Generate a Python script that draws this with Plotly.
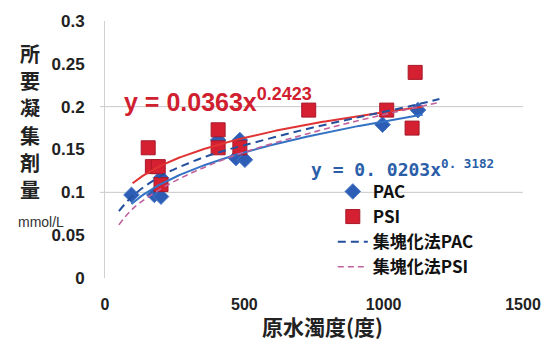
import numpy as np
import plotly.graph_objects as go

# Raw water turbidity (degrees) vs. required coagulant dose (mmol/L)
pac_x = [95, 177, 201, 201, 406, 470, 484, 502, 996, 1123]
pac_y = [0.097, 0.097, 0.095, 0.117, 0.161, 0.140, 0.161, 0.138, 0.179, 0.196]

psi_x = [155, 170, 191, 201, 406, 406, 484, 731, 1011, 1102, 1113]
psi_y = [0.152, 0.130, 0.130, 0.109, 0.173, 0.152, 0.152, 0.196, 0.196, 0.175, 0.240]

# Power-law fits y = a * x^b, as printed on the chart
pac_fit = [0.0203, 0.3182]
psi_fit = [0.0363, 0.2423]
pac_fit_range = [95, 1140]
psi_fit_range = [99, 1140]

# Floc-method (集塊化法) estimates
floc_x = [50, 100, 200, 300, 400, 500, 700, 900, 1100, 1200]
floc_pac_y = [0.078, 0.096, 0.119, 0.134, 0.146, 0.155, 0.172, 0.187, 0.201, 0.209]
floc_psi_y = [0.062, 0.081, 0.104, 0.121, 0.135, 0.147, 0.166, 0.183, 0.198, 0.205]

x_ticks = [0, 500, 1000, 1500]
y_ticks = [0, 0.05, 0.1, 0.15, 0.2, 0.25, 0.3]
y_title_chars = ["所", "要", "凝", "集", "剤", "量"]

BLUE = "#2d5db4"
RED = "#d42030"
BLUE_LINE = "#3473c4"
RED_LINE = "#e03434"
BLUE_DASH = "#24509e"
PINK_DASH = "#c0609c"
JP = "Noto Sans CJK JP"
LAT = "Liberation Sans"


def fit_curve(coef, rng):
    xs = np.linspace(rng[0], rng[1], 120)
    return xs, coef[0] * xs ** coef[1]


def fit_label(coef, sep=""):
    a = f"{coef[0]:.4f}".replace(".", "." + sep)
    b = f"{coef[1]:.4f}".replace(".", "." + sep)
    return a, b


fig = go.Figure()

fig.add_trace(go.Scatter(
    x=pac_x, y=pac_y, mode="markers", name="PAC",
    marker=dict(symbol="diamond", size=12, color=BLUE,
                line=dict(color="#4a78c8", width=1)),
))
fig.add_trace(go.Scatter(
    x=psi_x, y=psi_y, mode="markers", name="PSI",
    marker=dict(symbol="square", size=14, color=RED,
                line=dict(color="#a8182a", width=1)),
))

fx, fy = fit_curve(pac_fit, pac_fit_range)
fig.add_trace(go.Scatter(x=fx, y=fy, mode="lines", showlegend=False,
                         line=dict(color=BLUE_LINE, width=2)))
fx, fy = fit_curve(psi_fit, psi_fit_range)
fig.add_trace(go.Scatter(x=fx, y=fy, mode="lines", showlegend=False,
                         line=dict(color=RED_LINE, width=2)))

fig.add_trace(go.Scatter(
    x=floc_x, y=floc_pac_y, mode="lines", name="集塊化法PAC",
    line=dict(color=BLUE_DASH, width=2, dash="8px,5px", shape="spline"),
))
fig.add_trace(go.Scatter(
    x=floc_x, y=floc_psi_y, mode="lines", name="集塊化法PSI",
    line=dict(color=PINK_DASH, width=1.6, dash="6px,4px", shape="spline"),
))

# horizontal guide lines at 0.1 and 0.2
for gy in (0.1, 0.2):
    fig.add_shape(type="line", xref="paper", yref="y", x0=-0.012, x1=1,
                  y0=gy, y1=gy, line=dict(color="#c8c8c8", width=1), layer="below")

# fitted equations
a, b = fit_label(psi_fit)
fig.add_annotation(
    x=0.04, y=0.208, xref="paper", yref="y", xanchor="left", yanchor="middle",
    text=f"y = {a}x<sup><span style='font-size:18px'>{b}</span></sup>",
    showarrow=False,
    font=dict(family=LAT, size=25, color="#d02030", weight="bold"),
)
a, b = fit_label(pac_fit, sep=" ")
fig.add_annotation(
    x=0.487, y=0.128, xref="paper", yref="y", xanchor="left", yanchor="middle",
    text=f"y = {a}x<sup>{b}</sup>", showarrow=False,
    font=dict(family="DejaVu Sans Mono", size=18, color="#2a5ea8", weight="bold"),
)

# vertical y-axis title, one character per row
for i, ch in enumerate(y_title_chars):
    fig.add_annotation(
        x=-0.179, y=0.876 - i * 0.106, xref="paper", yref="paper",
        xanchor="center", yanchor="middle", text=ch, showarrow=False,
        height=26, valign="middle",
        font=dict(family=JP, size=20, color="#222222", weight="bold"),
    )
fig.add_annotation(
    x=-0.153, y=0.218, xref="paper", yref="paper", xanchor="center", yanchor="middle",
    text="mmol/L", showarrow=False,
    font=dict(family=LAT, size=14, color="#333333"),
)
fig.add_annotation(
    x=0.52, y=-0.185, xref="paper", yref="paper", xanchor="center", yanchor="middle",
    text="原水濁度(度)", showarrow=False,
    font=dict(family=JP, size=21, color="#222222", weight="bold"),
)

fig.update_layout(
    width=553, height=343,
    margin=dict(l=105, r=23, t=21, b=65),
    paper_bgcolor="white", plot_bgcolor="white",
    showlegend=True,
    legend=dict(
        x=0.545, y=0.405, xanchor="left", yanchor="top",
        bgcolor="rgba(0,0,0,0)", borderwidth=0,
        font=dict(family=JP, size=17, color="#111111", weight="bold"),
        tracegroupgap=0, itemwidth=30,
    ),
    xaxis=dict(
        range=[0, 1500], tickvals=x_ticks, showgrid=False, zeroline=False,
        showline=False, ticks="", ticklabelstandoff=15,
        tickfont=dict(family=LAT, size=16, color="#222222", weight="bold"),
    ),
    yaxis=dict(
        range=[0, 0.3], tickvals=y_ticks, ticktext=[str(v) for v in y_ticks],
        showgrid=False, zeroline=False,
        showline=True, linecolor="#d0d0d0", linewidth=1,
        ticks="", ticklabelstandoff=16,
        tickfont=dict(family=LAT, size=17, color="#222222", weight="bold"),
    ),
)

fig.write_html("out.html")
